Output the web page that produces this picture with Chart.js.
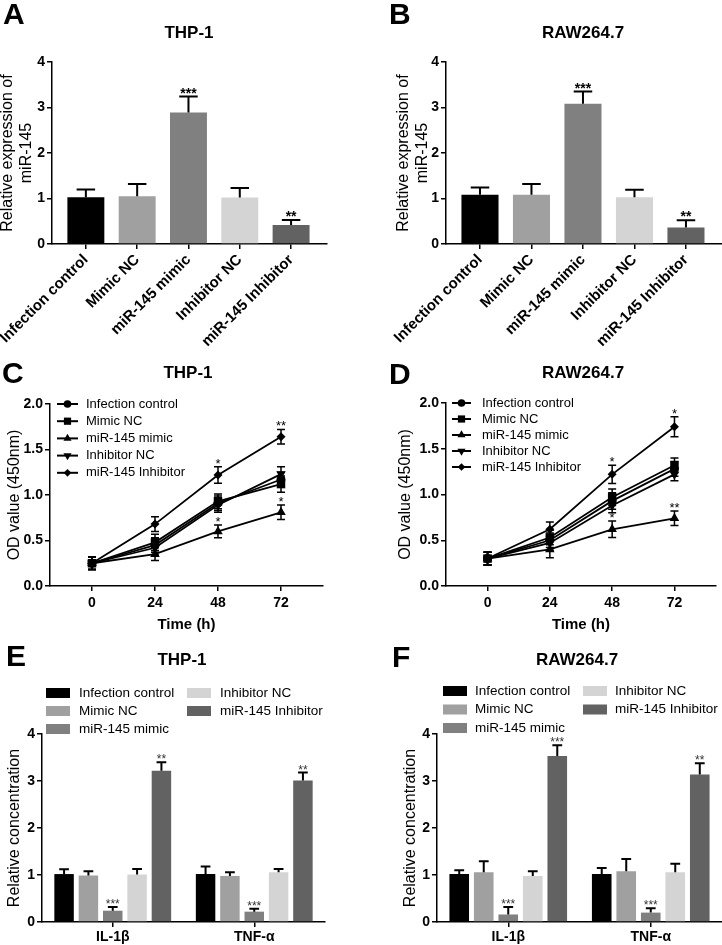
<!DOCTYPE html>
<html>
<head>
<meta charset="utf-8">
<script src="https://cdn.jsdelivr.net/npm/chart.js@4.4.1/dist/chart.umd.min.js"></script>
<style>
  html, body { margin: 0; padding: 0; background: #fff; }
  #fig { position: relative; width: 722px; height: 945px; overflow: hidden; font-family: Arial, "Liberation Sans", sans-serif; color: #000; }
  #fig canvas { position: absolute; }
  .lt { position: absolute; font-weight: bold; font-size: 30px; line-height: 30px; }
  .tt { position: absolute; width: 200px; text-align: center; font-weight: bold; font-size: 17px; line-height: 17px; }
</style>
</head>
<body>
<div id="fig">
  <canvas id="cA" width="361" height="350" style="left:0;top:0"></canvas>
  <canvas id="cB" width="361" height="350" style="left:361px;top:0"></canvas>
  <canvas id="cC" width="361" height="310" style="left:0;top:330px"></canvas>
  <canvas id="cD" width="361" height="310" style="left:361px;top:330px"></canvas>
  <canvas id="cE" width="361" height="315" style="left:0;top:630px"></canvas>
  <canvas id="cF" width="361" height="315" style="left:361px;top:630px"></canvas>

  <div class="lt" style="left:3px;top:-1px">A</div>
  <div class="lt" style="left:389px;top:-1px">B</div>
  <div class="lt" style="left:2px;top:358px">C</div>
  <div class="lt" style="left:389px;top:359px">D</div>
  <div class="lt" style="left:6px;top:641px">E</div>
  <div class="lt" style="left:392px;top:642px">F</div>

  <div class="tt" style="left:89px;top:24px">THP-1</div>
  <div class="tt" style="left:483px;top:24px">RAW264.7</div>
  <div class="tt" style="left:88px;top:364px">THP-1</div>
  <div class="tt" style="left:483px;top:364px">RAW264.7</div>
  <div class="tt" style="left:82px;top:651px">THP-1</div>
  <div class="tt" style="left:477px;top:651px">RAW264.7</div>
</div>

<script>
// ---- data ----
const groups = ['Infection control', 'Mimic NC', 'miR-145 mimic', 'Inhibitor NC', 'miR-145 Inhibitor'];
const cytokines = ['IL-1β', 'TNF-α'];
const timePoints = [0, 24, 48, 72];

// A / B : miR-145 expression
const thpExpr = [1.03, 1.05, 2.89, 1.02, 0.42];
const thpExprErr = [0.17, 0.27, 0.35, 0.21, 0.11];
const thpExprStars = ['', '', '***', '', '**'];
const rawExpr = [1.08, 1.08, 3.08, 1.03, 0.36];
const rawExprErr = [0.16, 0.24, 0.27, 0.16, 0.16];
const rawExprStars = ['', '', '***', '', '**'];

// C / D : OD value per group, per time point
const thpOd = [
  [0.25, 0.45, 0.91, 1.17],
  [0.25, 0.48, 0.93, 1.12],
  [0.25, 0.35, 0.60, 0.81],
  [0.25, 0.42, 0.89, 1.23],
  [0.25, 0.68, 1.22, 1.64]
];
const thpOdErr = [
  [0.07, 0.08, 0.08, 0.08],
  [0.07, 0.09, 0.08, 0.09],
  [0.07, 0.07, 0.07, 0.08],
  [0.07, 0.08, 0.08, 0.08],
  [0.07, 0.08, 0.09, 0.08]
];
const thpOdStars = [[], [], ['', '', '*', '*'], [], ['', '', '*', '**']];
const rawOd = [
  [0.30, 0.50, 0.93, 1.28],
  [0.30, 0.53, 0.97, 1.32],
  [0.30, 0.40, 0.62, 0.74],
  [0.30, 0.47, 0.88, 1.22],
  [0.30, 0.62, 1.22, 1.74]
];
const rawOdErr = [
  [0.07, 0.08, 0.09, 0.08],
  [0.07, 0.08, 0.09, 0.08],
  [0.07, 0.09, 0.09, 0.08],
  [0.07, 0.08, 0.08, 0.07],
  [0.07, 0.08, 0.10, 0.11]
];
const rawOdStars = [[], [], ['', '', '*', '**'], [], ['', '', '*', '*']];

// E / F : cytokine concentration per group [IL-1β, TNF-α]
const thpCyto = [[1.02, 1.02], [0.99, 0.98], [0.24, 0.22], [1.01, 1.06], [3.22, 3.01]];
const thpCytoErr = [[0.10, 0.16], [0.09, 0.08], [0.08, 0.06], [0.12, 0.07], [0.18, 0.17]];
const thpCytoStars = [['', ''], ['', ''], ['***', '***'], ['', ''], ['**', '**']];
const rawCyto = [[1.02, 1.02], [1.06, 1.08], [0.16, 0.20], [0.98, 1.06], [3.53, 3.14]];
const rawCytoErr = [[0.08, 0.13], [0.23, 0.26], [0.16, 0.09], [0.10, 0.18], [0.23, 0.24]];
const rawCytoStars = [['', ''], ['', ''], ['***', '***'], ['', ''], ['***', '**']];

// ---- style ----
const groupColors = ['#000000', '#a0a0a0', '#808080', '#d4d4d4', '#626262'];
const markerStyles = ['circle', 'rect', 'triangle', 'triangle', 'rectRot'];
const markerRot = [0, 0, 0, 180, 0];
const markerRadius = [4.5, 6, 5.5, 5.5, 4.5];

Chart.defaults.font.family = 'Arial, "Liberation Sans", sans-serif';
Chart.defaults.color = '#000';

// --- error bars + significance stars ---
const whiskers = {
  id: 'whiskers',
  afterDatasetsDraw(chart, args, o) {
    const ctx = chart.ctx;
    const ys = chart.scales.y;
    chart.data.datasets.forEach((ds, i) => {
      if (!ds.errors) return;
      const meta = chart.getDatasetMeta(i);
      meta.data.forEach((el, j) => {
        const raw = ds.data[j];
        const v = typeof raw === 'object' ? raw.y : raw;
        const e = ds.errors[j] || 0;
        const yTop = ys.getPixelForValue(v + e);
        const yBot = o.both ? ys.getPixelForValue(v - e) : ys.getPixelForValue(v);
        const half = o.cap ? o.cap : el.width * 0.25;
        ctx.save();
        ctx.strokeStyle = '#000';
        ctx.lineWidth = o.width || 1.5;
        ctx.beginPath();
        ctx.moveTo(el.x, yBot); ctx.lineTo(el.x, yTop);
        ctx.moveTo(el.x - half, yTop); ctx.lineTo(el.x + half, yTop);
        if (o.both) { ctx.moveTo(el.x - half, yBot); ctx.lineTo(el.x + half, yBot); }
        ctx.stroke();
        if (ds.stars && ds.stars[j]) {
          ctx.fillStyle = o.starColor || '#000';
          ctx.font = o.starFont;
          ctx.textAlign = 'center';
          ctx.textBaseline = 'alphabetic';
          ctx.fillText(ds.stars[j], el.x, yTop + (o.starOffset || 1));
        }
        ctx.restore();
      });
    });
  }
};

// --- GraphPad-style key (boxes or line+marker), column-major ---
const key = {
  id: 'key',
  afterDraw(chart, args, o) {
    if (!o.cols) return;
    const ctx = chart.ctx;
    ctx.save();
    ctx.font = o.font;
    ctx.textBaseline = 'middle';
    ctx.textAlign = 'left';
    chart.data.datasets.forEach((ds, k) => {
      const col = Math.floor(k / o.rows), row = k % o.rows;
      const x = o.cols[col], y = o.y0 + row * o.rowH;
      if (o.kind === 'box') {
        ctx.fillStyle = ds.backgroundColor;
        ctx.fillRect(x, y - o.boxH / 2, o.boxW, o.boxH);
      } else {
        ctx.strokeStyle = '#000';
        ctx.lineWidth = 2;
        ctx.beginPath(); ctx.moveTo(x, y); ctx.lineTo(x + o.lineW, y); ctx.stroke();
        ctx.fillStyle = '#000';
        const opt = { pointStyle: ds.pointStyle, rotation: ds.pointRotation || 0, radius: ds.pointRadius * 0.85, borderWidth: 0 };
        if (Chart.helpers && Chart.helpers.drawPoint) {
          Chart.helpers.drawPoint(ctx, opt, x + o.lineW / 2, y);
        } else {
          ctx.beginPath(); ctx.arc(x + o.lineW / 2, y, opt.radius, 0, Math.PI * 2); ctx.fill();
        }
      }
      ctx.fillStyle = '#000';
      ctx.fillText(ds.label, x + o.textDx, y);
    });
    ctx.restore();
  }
};

// --- axis helpers ---
function yAxis(max, step, width, title, titlePad, fmt) {
  return {
    min: 0, max,
    ticks: { stepSize: step, font: { weight: 'bold', size: 14 }, color: '#000', padding: 2, callback: fmt || (v => v) },
    grid: { drawOnChartArea: false, color: '#000', lineWidth: 1.5, tickLength: 5 },
    border: { color: '#000', width: 1.5 },
    title: { display: true, text: title, font: { size: 16 }, color: '#000', padding: { top: titlePad, bottom: 0 } },
    afterFit: s => { s.width = width; }
  };
}

function tickGrid() {
  return { drawOnChartArea: false, color: '#000', lineWidth: 1.5, tickLength: 5, offset: false };
}

function baseOptions(padding, scales, plugins) {
  return {
    responsive: false,
    animation: false,
    devicePixelRatio: 1,
    events: [],
    layout: { padding },
    scales,
    plugins: Object.assign({ legend: { display: false }, tooltip: { enabled: false } }, plugins)
  };
}

// --- A / B: expression bars ---
function renderExpression(id, values, errors, stars, padding) {
  const xAxis = {
    type: 'linear', min: -0.66, max: 4.7, offset: false,
    afterBuildTicks: s => { s.ticks = groups.map((_, i) => ({ value: i })); },
    ticks: { autoSkip: false, minRotation: 45, maxRotation: 45, padding: 2, color: '#000',
             font: { weight: 'bold', size: 15 }, callback: v => groups[v] },
    grid: tickGrid(),
    border: { color: '#000', width: 1.5 },
    afterFit: s => { s.height = 106; s.paddingLeft = 0; s.paddingRight = 0; }
  };
  return new Chart(document.getElementById(id), {
    type: 'bar',
    data: {
      datasets: [{
        label: 'miR-145',
        data: values.map((y, i) => ({ x: i, y })),
        errors, stars,
        backgroundColor: groupColors,
        borderWidth: 0,
        categoryPercentage: 1,
        barPercentage: 0.72
      }]
    },
    options: baseOptions(padding, {
      x: xAxis,
      y: yAxis(4, 1, 52, ['Relative expression of', 'miR-145'], padding.left ? 0 : -2)
    }, { whiskers: { both: false, width: 2, starFont: 'bold 14px Arial, "Liberation Sans"', starOffset: 1 } }),
    plugins: [whiskers]
  });
}

// --- C / D: OD growth curves ---
function renderGrowth(id, means, errs, stars, padding, yWidth, titlePad, keyOpts) {
  const datasets = groups.map((g, k) => ({
    label: g,
    data: timePoints.map((t, j) => ({ x: t, y: means[k][j] })),
    errors: errs[k],
    stars: stars[k],
    borderColor: '#000',
    backgroundColor: '#000',
    borderWidth: 1.8,
    pointStyle: markerStyles[k],
    pointRotation: markerRot[k],
    pointRadius: markerRadius[k],
    pointBorderWidth: 0,
    tension: 0
  }));
  return new Chart(document.getElementById(id), {
    type: 'line',
    data: { datasets },
    options: baseOptions(padding, {
      x: {
        type: 'linear', min: -16, max: 88,
        afterBuildTicks: s => { s.ticks = timePoints.map(v => ({ value: v })); },
        ticks: { font: { weight: 'bold', size: 14 }, color: '#000', padding: 4 },
        grid: tickGrid(),
        border: { color: '#000', width: 1.5 },
        title: { display: true, text: 'Time (h)', font: { size: 15, weight: 'bold' }, color: '#000', padding: { top: 0, bottom: 6 } },
        afterFit: s => { s.height = 54; s.paddingLeft = 0; s.paddingRight = 0; }
      },
      y: yAxis(2, 0.5, yWidth, 'OD value (450nm)', titlePad, v => v.toFixed(1))
    }, {
      whiskers: { both: true, cap: 4, width: 1.5, starFont: '13px Arial, "Liberation Sans"', starOffset: 1 },
      key: keyOpts
    }),
    plugins: [whiskers, key]
  });
}

// --- E / F: cytokine grouped bars ---
function renderCytokine(id, means, errs, stars, padding, yWidth, titlePad, keyOpts) {
  const datasets = groups.map((g, k) => ({
    label: g,
    data: means[k],
    errors: errs[k],
    stars: stars[k],
    backgroundColor: groupColors[k],
    borderWidth: 0,
    categoryPercentage: 0.86,
    barPercentage: 0.8
  }));
  return new Chart(document.getElementById(id), {
    type: 'bar',
    data: { labels: cytokines, datasets },
    options: baseOptions(padding, {
      x: {
        ticks: { font: { weight: 'bold', size: 14 }, color: '#000', padding: 2 },
        grid: tickGrid(),
        border: { color: '#000', width: 1.5 },
        afterFit: s => { s.height = 23; s.paddingLeft = 0; s.paddingRight = 0; }
      },
      y: yAxis(4, 1, yWidth, 'Relative concentration', titlePad)
    }, {
      whiskers: { both: false, width: 2, starFont: '12px Arial, "Liberation Sans"', starColor: '#333', starOffset: 1 },
      key: keyOpts
    }),
    plugins: [whiskers, key]
  });
}

renderExpression('cA', thpExpr, thpExprErr, thpExprStars, { top: 62, left: 0, right: 34, bottom: 0 });
renderExpression('cB', rawExpr, rawExprErr, rawExprStars, { top: 62, left: 33, right: 0, bottom: 0 });

renderGrowth('cC', thpOd, thpOdErr, thpOdStars, { top: 74, left: 0, right: 38, bottom: 0 }, 50, 5,
  { kind: 'line', cols: [57], rows: 5, y0: 74, rowH: 17.2, lineW: 21, textDx: 29, font: '13px Arial, "Liberation Sans"' });
renderGrowth('cD', rawOd, rawOdErr, rawOdStars, { top: 73, left: 35, right: 0, bottom: 0 }, 50, 0,
  { kind: 'line', cols: [91], rows: 5, y0: 73, rowH: 16, lineW: 19, textDx: 30, font: '13px Arial, "Liberation Sans"' });

renderCytokine('cE', thpCyto, thpCytoErr, thpCytoStars, { top: 104, left: 0, right: 36, bottom: 0 }, 42, 5,
  { kind: 'box', cols: [46, 187], rows: 3, y0: 63, rowH: 18, boxW: 24, boxH: 10, textDx: 33, font: '13.5px Arial, "Liberation Sans"' });
renderCytokine('cF', rawCyto, rawCytoErr, rawCytoStars, { top: 104, left: 40, right: 0, bottom: 0 }, 36, 0,
  { kind: 'box', cols: [82, 222], rows: 3, y0: 61, rowH: 18.5, boxW: 24, boxH: 10, textDx: 32, font: '13.5px Arial, "Liberation Sans"' });
</script>
</body>
</html>
